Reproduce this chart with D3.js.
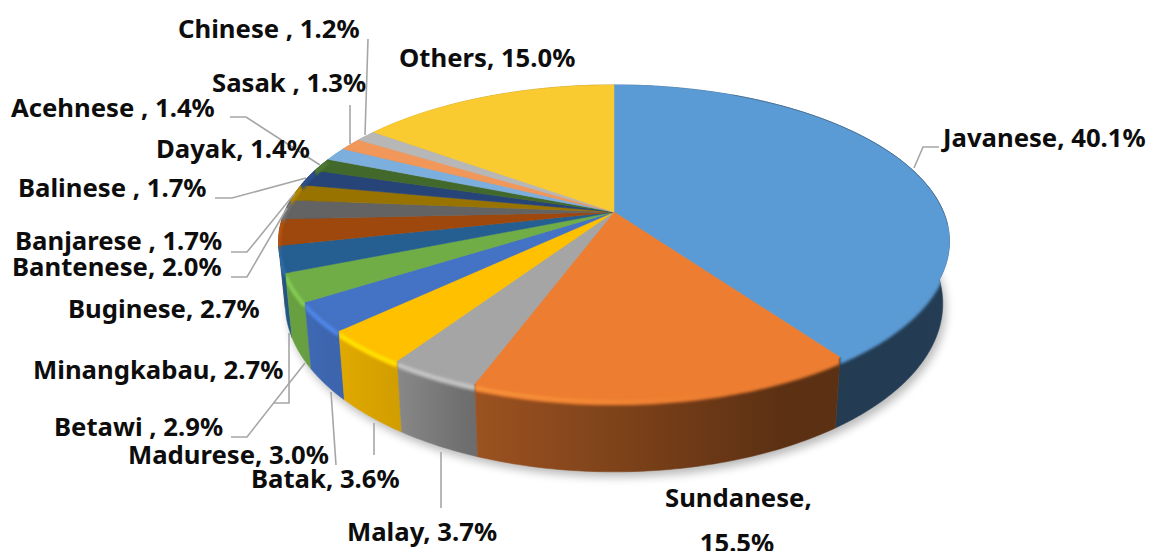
<!DOCTYPE html>
<html><head><meta charset="utf-8">
<script src="https://cdn.jsdelivr.net/npm/d3@7"></script>
<style>html,body{margin:0;padding:0;background:#fff;overflow:hidden}svg{display:block}
text{font-family:"Noto Sans",sans-serif;font-weight:700;font-size:25.7px;fill:#0d0d0d}</style>
</head><body><svg id="c" width="1152" height="551"></svg>
<script>
const categories=["Javanese","Sundanese","Malay","Batak","Madurese","Betawi ","Minangkabau","Buginese","Bantenese","Banjarese ","Balinese ","Dayak","Acehnese ","Sasak ","Chinese ","Others"];
const shares=[40.1,15.5,3.7,3.6,3.0,2.9,2.7,2.7,2.0,1.7,1.7,1.4,1.4,1.3,1.2,15.0];
const colors=["#5b9bd5","#ed7d31","#a5a5a5","#ffc000","#4472c4","#70ad47","#255e91","#9e480e","#636363","#997300","#264478","#43682b","#7cafdd","#f1975a","#b7b7b7","#facb30"];
// label placement: left x and baseline
const labelX=[943,665,347,251,128,54,33,68,12,15,18,156,11,212,178,399];
const labelY=[147,507,541,488,464,436,379,318,276,250,197,158,117,92,38,67];
const leaders=[
 [[939,147],[923,147],[914,168]],
 [[441,452],[441,508]],
 [[374,423],[374,455]],
 [[331,392],[336,465]],
 [[231,437],[247,437],[305,363]],
 [[289,333],[289,403],[273,403]],
 [[231,277],[247,277],[287,208]],
 [[231,252],[247,252],[295,193]],
 [[215,198],[232,198],[306,178]],
 [[230,117],[246,117],[320,165]],
 [[350,105],[350,144]],
 [[368,39],[365,135]]
];
const cx=614,cy=212,rx=329.5,ry=151,k=0.188,depth=60,bottomShrink=0.98;
const svg=d3.select("#c"),defs=svg.append("defs");
function proj(a){
  const u=Math.sin(a),v=-Math.cos(a),s=1/(1-k*v);
  return [cx+rx*u*s,cy+ry*v*s];
}
function projLow(a){
  const u=Math.sin(a),v=-Math.cos(a),s=1/(1-k*v);
  return [cx+rx*u*s*bottomShrink,cy+ry*v*s+depth*s];
}
function projOff(a,off){
  const p=proj(a);
  const v=-Math.cos(a),s=1/(1-k*v);
  return [p[0],p[1]+off*s];
}
const line=d3.line();
const pie=d3.pie().sort(null).value(d=>d)(shares);
const rimAngles=d=>{const n=Math.max(4,Math.ceil((d.endAngle-d.startAngle)*60));return d3.range(n+1).map(i=>d.startAngle+(d.endAngle-d.startAngle)*i/n);};
const f=defs.append("filter").attr("id","sh").attr("x","-20%").attr("y","-20%").attr("width","140%").attr("height","140%").attr("color-interpolation-filters","sRGB");
f.append("feGaussianBlur").attr("stdDeviation",5);
const f2=defs.append("filter").attr("id","bl").attr("filterUnits","userSpaceOnUse").attr("x",0).attr("y",0).attr("width",1152).attr("height",551).attr("color-interpolation-filters","sRGB");
f2.append("feGaussianBlur").attr("stdDeviation",1.6);
const allAngles=d3.range(0,361,2).map(a=>a*Math.PI/180);
svg.append("path").attr("d",line(allAngles.map(a=>{const p=projLow(a);return [p[0]+3,p[1]+5];}))+"Z").attr("fill","#000").attr("opacity",.28).attr("filter","url(#sh)");
const sideFactor=d3.scaleLinear().domain([300,400,470,790,1000]).range([.92,.82,.66,.38,.4]).clamp(true);
const shade=(c,t)=>{const o=d3.rgb(c);return d3.rgb(o.r*t,o.g*t,o.b*t).formatHex();};
const order=d3.range(pie.length).sort((a,b)=>{
  const m=d=>Math.cos((d.startAngle+d.endAngle)/2);
  return m(pie[b])-m(pie[a]);
});
const sides=svg.append("g"),tops=svg.append("g"),bevels=svg.append("g");
pie.forEach((d,i)=>{
  const as=rimAngles(d);
  const upper=as.map(a=>proj(a)),lower=as.map(projLow).reverse();
  const quad=line(upper.concat(lower))+"Z";
  const sector=line([[cx,cy]].concat(upper))+"Z";
  const xs=upper.map(p=>p[0]).concat(lower.map(p=>p[0]));
  const x0=d3.min(xs),x1=d3.max(xs);
  const g=defs.append("linearGradient").attr("id","g"+i).attr("gradientUnits","userSpaceOnUse").attr("x1",x0).attr("x2",x1).attr("y1",0).attr("y2",0);
  d3.range(7).forEach(j=>{const t=j/6;g.append("stop").attr("offset",t).attr("stop-color",shade(colors[i],sideFactor(x0+(x1-x0)*t)));});
  const cp=defs.append("clipPath").attr("id","cp"+i);
  cp.append("path").attr("d",quad);
  cp.append("path").attr("d",sector);
  d.quad=quad;d.sector=sector;d.as=as;
});
order.forEach(i=>{
  sides.append("path").attr("d",pie[i].quad).attr("fill",`url(#g${i})`).attr("stroke",`url(#g${i})`).attr("stroke-width",.5);
});
pie.forEach((d,i)=>{
  tops.append("path").attr("d",d.sector).attr("fill",colors[i]).attr("stroke",colors[i]).attr("stroke-width",.5);
});
// faint dark edge along the far right rim of the largest slice
tops.append("path").attr("d",line(d3.range(25,96,1).map(a=>proj(a*Math.PI/180)))).attr("fill","none").attr("stroke","#3f5f7d").attr("stroke-opacity",.55).attr("stroke-width",1);
const glow=d3.scaleLinear().domain([280,470,720]).range([.75,.75,0]).clamp(true);
pie.forEach((d,i)=>{
  const mid=(d.startAngle+d.endAngle)/2;
  if(Math.cos(mid)>=0.35) return;
  const lay=bevels.append("g").attr("clip-path",`url(#cp${i})`);
  const pts=o=>d.as.filter(a=>a>Math.PI*0.5).map(a=>projOff(a,o));
  lay.append("path").attr("d",line(pts(-3).concat(pts(6).reverse()))+"Z").attr("fill",colors[i]).attr("filter","url(#bl)");
  const xs=d.as.map(a=>proj(a)[0]);
  const lo=d3.min(xs),hi=d3.max(xs);
  if(glow(lo)<=0||i===0) return;
  const hg=defs.append("linearGradient").attr("id","h"+i).attr("gradientUnits","userSpaceOnUse").attr("x1",lo).attr("x2",hi+.01).attr("y1",0).attr("y2",0);
  d3.range(5).forEach(j=>{const t=j/4,x=lo+(hi-lo)*t;
    hg.append("stop").attr("offset",t).attr("stop-color",d3.rgb(colors[i]).brighter(.7).formatHex()).attr("stop-opacity",glow(x));});
  lay.append("path").attr("d",line(pts(3))).attr("fill","none").attr("stroke",`url(#h${i})`).attr("stroke-width",3.5).attr("filter","url(#bl)");
});
svg.append("g").selectAll("path").data(leaders).join("path").attr("d",d=>line(d)).attr("fill","none").attr("stroke","#a6a6a6").attr("stroke-width",1.6);
const labels=svg.append("g");
categories.forEach((c,i)=>{
  const pct=shares[i].toFixed(1)+"%";
  if(c==="Sundanese"){
    labels.append("text").attr("x",labelX[i]).attr("y",labelY[i]).text(c+",");
    labels.append("text").attr("x",labelX[i]+72).attr("y",552).attr("text-anchor","middle").text(pct);
  } else {
    labels.append("text").attr("x",labelX[i]).attr("y",labelY[i]).text(c+", "+pct);
  }
});
</script></body></html>
